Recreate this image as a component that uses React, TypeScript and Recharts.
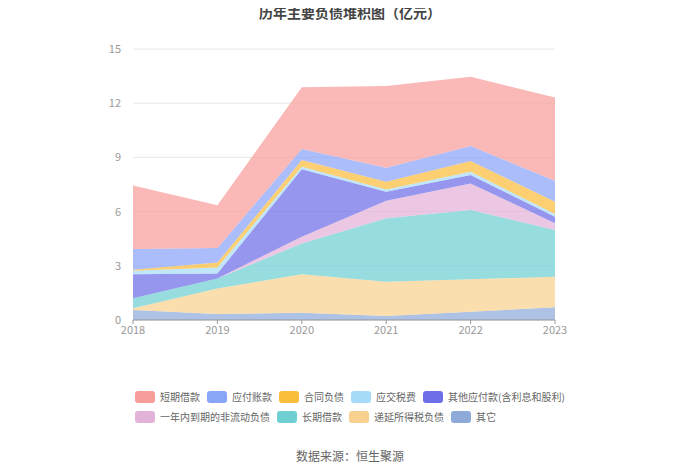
import { AreaChart, Area, XAxis, YAxis, CartesianGrid } from 'recharts';

const years = ['2018', '2019', '2020', '2021', '2022', '2023'];

// values in 亿元
const shortLoans = [3.52, 2.36, 3.42, 4.52, 3.83, 4.61];
const payables = [1.15, 0.81, 0.61, 0.78, 0.83, 1.16];
const contractLiab = [0.05, 0.27, 0.37, 0.42, 0.59, 0.68];
const taxesPayable = [0.2, 0.33, 0.14, 0.13, 0.19, 0.15];
const otherPayables = [1.33, 0.28, 3.73, 0.5, 0.46, 0.37];
const currentNonCurrent = [0, 0, 0.37, 0.97, 1.47, 0.37];
const longLoans = [0.55, 0.55, 1.71, 3.51, 3.84, 2.58];
const deferredTax = [0.1, 1.42, 2.13, 1.9, 1.79, 1.7];
const others = [0.55, 0.33, 0.4, 0.22, 0.46, 0.7];

const yTicks = [0, 3, 6, 9, 12, 15];

// bottom of stack first
const series = [
  { key: 'others', name: '其它', color: '#8eaad9', values: others },
  { key: 'deferredTax', name: '递延所得税负债', color: '#f9d18e', values: deferredTax },
  { key: 'longLoans', name: '长期借款', color: '#6fcfd3', values: longLoans },
  { key: 'currentNonCurrent', name: '一年内到期的非流动负债', color: '#e3b2d9', values: currentNonCurrent },
  { key: 'otherPayables', name: '其他应付款(含利息和股利)', color: '#6e6ee8', values: otherPayables },
  { key: 'taxesPayable', name: '应交税费', color: '#a6dcfa', values: taxesPayable },
  { key: 'contractLiab', name: '合同负债', color: '#fbbd3c', values: contractLiab },
  { key: 'payables', name: '应付账款', color: '#8aa4f8', values: payables },
  { key: 'shortLoans', name: '短期借款', color: '#f89e9a', values: shortLoans },
];

const legendOrder = [...series].reverse();

const data = years.map((year, i) => {
  const row: Record<string, string | number> = { year };
  series.forEach(s => {
    row[s.key] = s.values[i];
  });
  return row;
});

const font = '"Noto Sans CJK SC", "Noto Sans", sans-serif';

export default function App() {
  return (
    <div style={{ position: 'relative', width: 700, height: 473, margin: -8, background: '#fff', fontFamily: font }}>
      <div style={{ position: 'absolute', top: 2, left: 0, width: 700, textAlign: 'center', fontSize: 14, fontWeight: 'bold', color: '#444' }}>
        历年主要负债堆积图（亿元）
      </div>
      <AreaChart width={700} height={473} data={data} margin={{ top: 49, right: 145, bottom: 123, left: 93 }}>
        <CartesianGrid vertical={false} stroke="#e6e8ef" />
        <XAxis
          dataKey="year"
          height={30}
          stroke="#999"
          tick={{ fill: '#999', fontSize: 11, fontFamily: font }}
          tickSize={4}
          tickMargin={2}
        />
        <YAxis
          width={40}
          domain={[0, 15]}
          ticks={yTicks}
          axisLine={false}
          tickLine={false}
          tick={{ fill: '#999', fontSize: 11, fontFamily: font }}
          tickMargin={6}
        />
        {series.map(s => (
          <Area
            key={s.key}
            dataKey={s.key}
            name={s.name}
            stackId="a"
            type="linear"
            stroke="none"
            fill={s.color}
            fillOpacity={0.72}
            isAnimationActive={false}
          />
        ))}
      </AreaChart>
      <div style={{ position: 'absolute', left: 135, top: 389, width: 436, display: 'flex', flexWrap: 'wrap', rowGap: 5, columnGap: 7 }}>
        {legendOrder.map(s => (
          <div key={s.key} style={{ display: 'flex', alignItems: 'center', height: 15, fontSize: 10, color: '#666', whiteSpace: 'nowrap' }}>
            <span style={{ display: 'inline-block', width: 20, height: 12, borderRadius: 3, background: s.color, marginRight: 5 }} />
            {s.name}
          </div>
        ))}
      </div>
      <div style={{ position: 'absolute', top: 447, left: 0, width: 700, textAlign: 'center', fontSize: 12, color: '#666' }}>
        数据来源：恒生聚源
      </div>
    </div>
  );
}
